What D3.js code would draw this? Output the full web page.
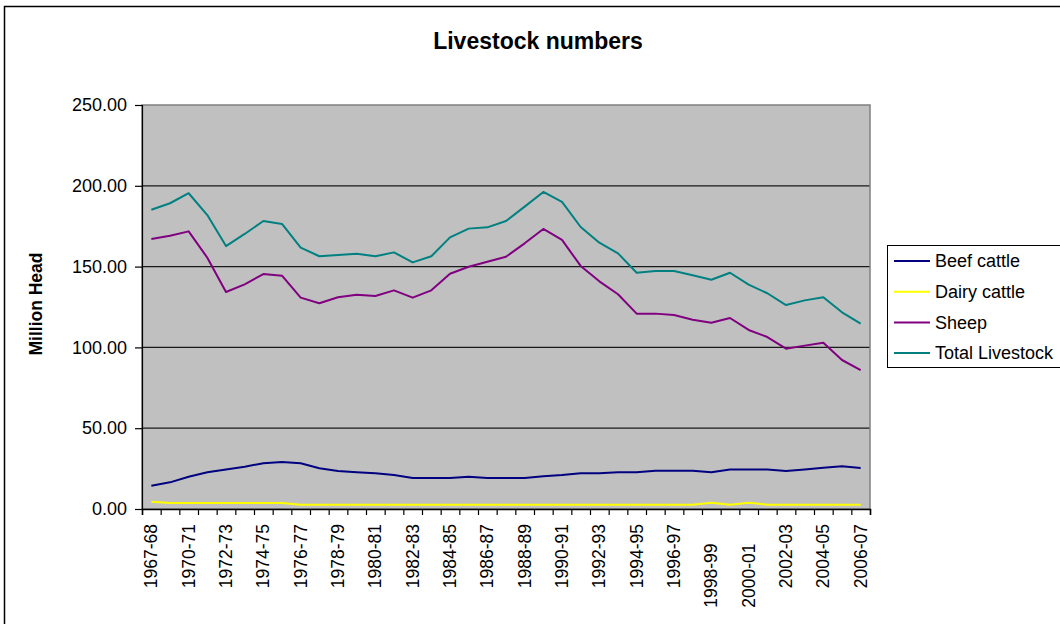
<!DOCTYPE html>
<html>
<head>
<meta charset="utf-8">
<script src="https://cdn.jsdelivr.net/npm/d3@7/dist/d3.min.js"></script>
<style>
  html, body { margin: 0; padding: 0; background: #fff; }
  svg { display: block; font-family: "Liberation Sans", Arial, sans-serif; }
  .xlab text { white-space: pre; }
</style>
</head>
<body>
<svg id="chart" width="1060" height="624"></svg>
<script>
const categories = [
  "1967-68","1968-69","1970-71","1971-72","1972-73","1973-74","1974-75","1975-76",
  "1976-77","1977-78","1978-79","1979-80","1980-81","1981-82","1982-83","1983-84",
  "1984-85","1985-86","1986-87","1987-88","1988-89","1989-90","1990-91","1991-92",
  "1992-93","1993-94","1994-95","1995-96","1996-97","1997-98","1998-99    ","1999-00",
  "2000-01    ","2001-02","2002-03","2003-04","2004-05","2005-06","2006-07"
];
const beefCattle = [
  14.4,16.5,20.0,22.7,24.5,26.2,28.3,29.1,28.3,25.2,23.5,22.7,22.1,21.0,19.2,19.2,
  19.2,20.0,19.2,19.2,19.2,20.2,21.0,22.1,22.1,22.7,22.7,23.7,23.7,23.7,22.7,24.5,
  24.5,24.5,23.5,24.5,25.6,26.4,25.4
];
const dairyCattle = [
  4.5,3.7,3.7,3.7,3.7,3.7,3.7,3.7,2.7,2.7,2.7,2.7,2.7,2.7,2.7,2.7,
  2.7,2.7,2.7,2.7,2.7,2.7,2.7,2.7,2.7,2.7,2.7,2.7,2.7,2.7,3.9,2.7,
  3.9,2.7,2.7,2.7,2.7,2.7,2.7
];
const sheep = [
  167.1,169.1,171.8,155.5,134.3,139.0,145.4,144.4,130.8,127.3,131.0,132.6,131.8,135.3,130.8,135.3,
  145.6,149.9,153.0,156.1,164.4,173.3,166.5,150.4,140.9,132.9,120.9,120.9,120.0,117.1,115.3,118.2,
  110.8,106.4,99.2,101.1,102.9,92.2,86.0
];
const totalLivestock = [
  185.2,189.2,195.4,181.9,162.7,170.2,178.2,176.4,161.7,156.4,157.2,158.0,156.4,158.8,152.6,156.4,
  168.1,173.5,174.3,178.2,187.1,196.2,190.0,174.5,164.8,158.2,146.2,147.3,147.3,144.6,141.9,146.2,
  138.8,133.5,126.2,129.1,131.0,121.7,114.7
];
const yTicks = [0, 50, 100, 150, 200, 250];
const seriesNames = ["Beef cattle","Dairy cattle","Sheep","Total Livestock"];
const seriesColors = ["#000080","#ffff00","#800080","#008080"];
const seriesData = [beefCattle, dairyCattle, sheep, totalLivestock];

const svg = d3.select("#chart");
const plot = {left: 142, right: 870, top: 105, bottom: 509};

// outer frame
svg.append("rect").attr("x", 4.5).attr("y", 6.5).attr("width", 1100).attr("height", 700)
  .attr("fill", "#fff").attr("stroke", "#000").attr("stroke-width", 1.5);

const x = d3.scaleBand().domain(categories).range([plot.left, plot.right]).padding(0);
const xb = d3.scaleLinear().domain([0, categories.length]).range([plot.left, plot.right]);
const y = d3.scaleLinear().domain([0, 250]).range([plot.bottom, plot.top]);

// plot area
svg.append("rect").attr("x", plot.left).attr("y", plot.top)
  .attr("width", plot.right - plot.left).attr("height", plot.bottom - plot.top)
  .attr("fill", "#c0c0c0");

// gridlines
svg.append("g").selectAll("line").data(yTicks.filter(d => d > 0 && d < 250)).join("line")
  .attr("x1", plot.left).attr("x2", plot.right)
  .attr("y1", d => y(d)).attr("y2", d => y(d))
  .attr("stroke", "#1a1a1a").attr("stroke-width", 1.2);

// plot border
svg.append("rect").attr("x", plot.left).attr("y", plot.top)
  .attr("width", plot.right - plot.left).attr("height", plot.bottom - plot.top)
  .attr("fill", "none").attr("stroke", "#808080").attr("stroke-width", 1.5);

// y axis
const yAxis = svg.append("g").attr("transform", `translate(${plot.left},0)`)
  .call(d3.axisLeft(y).tickValues(yTicks).tickFormat(d3.format(".2f")).tickSize(7).tickPadding(8));
yAxis.select(".domain").attr("stroke", "#000").attr("stroke-width", 1.2);
yAxis.selectAll(".tick line").attr("stroke", "#000").attr("stroke-width", 1.2);
yAxis.selectAll("text").attr("font-size", 18).attr("font-family", "Liberation Sans, Arial, sans-serif").attr("fill", "#000");

// x axis ticks at category boundaries
const xAxisTicks = svg.append("g").attr("transform", `translate(0,${plot.bottom})`)
  .call(d3.axisBottom(xb).tickValues(d3.range(0, categories.length + 1)).tickSize(6).tickFormat(""));
xAxisTicks.select(".domain").attr("stroke", "#000").attr("stroke-width", 1.5);
xAxisTicks.selectAll(".tick line").attr("stroke", "#000").attr("stroke-width", 1.2);

// x labels every 2nd category
const xLab = svg.append("g").attr("class", "xlab").attr("transform", `translate(0,${plot.bottom})`)
  .call(d3.axisBottom(x).tickSize(0).tickPadding(0)
    .tickFormat((d, i) => (i % 2 === 0 ? d : "")));
xLab.select(".domain").remove();
xLab.selectAll("text")
  .attr("font-size", 17.5).attr("font-family", "Liberation Sans, Arial, sans-serif").attr("fill", "#000")
  .attr("text-anchor", "end")
  .attr("transform", "rotate(-90)")
  .attr("x", -15).attr("y", 0).attr("dy", "0.35em");

// lines
const line = d3.line().x((d, i) => x(categories[i]) + x.bandwidth() / 2).y(d => y(d));
seriesData.forEach((s, k) => {
  svg.append("path").datum(s).attr("d", line)
    .attr("fill", "none").attr("stroke", seriesColors[k]).attr("stroke-width", 2)
    .attr("stroke-linejoin", "round");
});

// title
svg.append("text").attr("x", 538).attr("y", 49).attr("text-anchor", "middle")
  .attr("font-size", 23).attr("font-weight", "bold").text("Livestock numbers");

// y title
svg.append("text").attr("transform", "translate(42,304) rotate(-90)").attr("text-anchor", "middle")
  .attr("font-size", 17.5).attr("font-weight", "bold").text("Million Head");

// legend
const lg = svg.append("g");
lg.append("rect").attr("x", 887.5).attr("y", 245.5).attr("width", 200).attr("height", 122)
  .attr("fill", "#fff").attr("stroke", "#000").attr("stroke-width", 1);
seriesNames.forEach((n, k) => {
  const cy = 261 + k * 30.7;
  lg.append("line").attr("x1", 894).attr("x2", 930).attr("y1", cy).attr("y2", cy)
    .attr("stroke", seriesColors[k]).attr("stroke-width", 2);
  lg.append("text").attr("x", 935).attr("y", cy).attr("dy", "0.35em")
    .attr("font-size", 18).text(n);
});
</script>
</body>
</html>
